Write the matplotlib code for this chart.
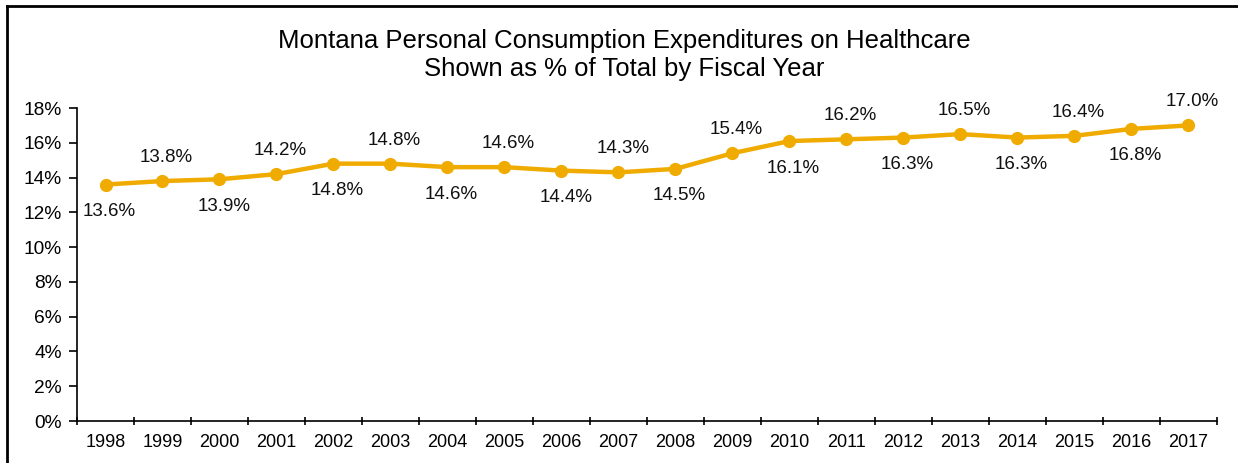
import matplotlib.pyplot as plt
from matplotlib.lines import Line2D

plt.rcParams['font.family'] = ['Liberation Sans', 'DejaVu Sans']

years = ['1998', '1999', '2000', '2001', '2002', '2003', '2004', '2005', '2006', '2007',
         '2008', '2009', '2010', '2011', '2012', '2013', '2014', '2015', '2016', '2017']
share = [13.6, 13.8, 13.9, 14.2, 14.8, 14.8, 14.6, 14.6, 14.4, 14.3,
         14.5, 15.4, 16.1, 16.2, 16.3, 16.5, 16.3, 16.4, 16.8, 17.0]
y_ticks = [0, 2, 4, 6, 8, 10, 12, 14, 16, 18]

gold = '#F0AB00'

fig = plt.figure(figsize=(12.38, 4.63), dpi=100)
ax = fig.add_axes([0.0622, 0.0907, 0.9208, 0.676])

x = range(len(years))
ax.plot(x, share, color=gold, lw=3.2, marker='o', ms=8.5, solid_capstyle='round')

# labels alternate below / above
for i, v in enumerate(share):
    dy = -19.5 if i % 2 == 0 else 17
    ax.annotate('{:.1f}%'.format(v), (i, v), xytext=(3, dy), textcoords='offset points',
                ha='center', va='center', fontsize=13.5, color='#111111')

ax.set_xlim(-0.5, len(years) - 0.5)
ax.set_ylim(0, 18)
ax.set_yticks(y_ticks)
ax.set_yticklabels(['{}%'.format(t) for t in y_ticks])
ax.set_xticks([i - 0.5 for i in range(len(years) + 1)])
ax.set_xticklabels([])
ax.set_xticks(list(x), minor=True)
ax.set_xticklabels(years, minor=True)
ax.tick_params(axis='x', which='minor', length=0, pad=9, labelsize=13)
ax.tick_params(axis='x', which='major', length=6, direction='inout', width=1.2)
ax.tick_params(axis='y', length=6, direction='out', width=1.2, labelsize=13.8, pad=5)
for s in ['top', 'right']:
    ax.spines[s].set_visible(False)
for s in ['left', 'bottom']:
    ax.spines[s].set_linewidth(1.2)

fig.text(0.504, 0.912, 'Montana Personal Consumption Expenditures on Healthcare',
         ha='center', va='center', fontsize=18.5)
fig.text(0.504, 0.852, 'Shown as % of Total by Fiscal Year',
         ha='center', va='center', fontsize=18.5)

# chart border (top and left visible)
fig.add_artist(Line2D([7 / 1238, 1.0], [1 - 6 / 463, 1 - 6 / 463], color='black', lw=2,
                      transform=fig.transFigure))
fig.add_artist(Line2D([7 / 1238, 7 / 1238], [0, 1 - 6 / 463], color='black', lw=2,
                      transform=fig.transFigure))

fig.savefig('out.png', dpi=100)
